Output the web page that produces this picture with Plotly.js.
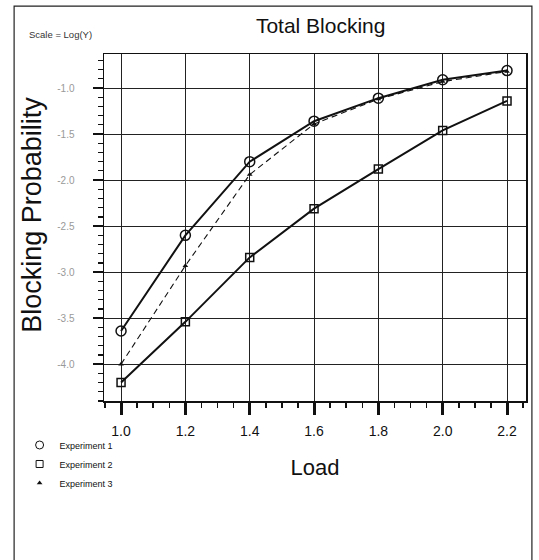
<!DOCTYPE html>
<html>
<head>
<meta charset="utf-8">
<script src="https://cdn.plot.ly/plotly-3.0.1.min.js"></script>
<style>html,body{margin:0;padding:0;background:#fff;}#chart{width:539px;height:560px;}</style>
</head>
<body>
<div id="chart"></div>
<script>
// ---- data ----
var load = [1.0, 1.2, 1.4, 1.6, 1.8, 2.0, 2.2];
var experiment1 = [-3.64, -2.60, -1.80, -1.36, -1.11, -0.91, -0.81];
var experiment2 = [-4.20, -3.54, -2.84, -2.31, -1.88, -1.46, -1.14];
var experiment3 = [-4.00, -2.93, -1.94, -1.39, -1.12, -0.93, -0.82];
var seriesNames = ['Experiment 1', 'Experiment 2', 'Experiment 3'];
var xTickVals = [1.0, 1.2, 1.4, 1.6, 1.8, 2.0, 2.2];
var xTickText = ['1.0', '1.2', '1.4', '1.6', '1.8', '2.0', '2.2'];
var yTickVals = [-1.0, -1.5, -2.0, -2.5, -3.0, -3.5, -4.0];
var yTickText = ['-1.0', '-1.5', '-2.0', '-2.5', '-3.0', '-3.5', '-4.0'];

var FONT = 'Liberation Sans, Arial, sans-serif';

var traces = [
  {x: load, y: experiment1, name: seriesNames[0], mode: 'lines+markers', showlegend: false,
   line: {color: '#111', width: 2},
   marker: {symbol: 'circle-open', size: 10, color: '#111', line: {width: 1.5, color: '#111'}}},
  {x: load, y: experiment2, name: seriesNames[1], mode: 'lines+markers', showlegend: false,
   line: {color: '#111', width: 2},
   marker: {symbol: 'square-open', size: 8, color: '#111', line: {width: 1.5, color: '#111'}}},
  {x: load, y: experiment3, name: seriesNames[2], mode: 'lines+markers', showlegend: false,
   line: {color: '#111', width: 1.1, dash: '6px,4px'},
   marker: {symbol: 'triangle-up', size: 5, color: '#111'}},
  // legend entries (symbol only, as in the reference)
  {x: [null], y: [null], name: seriesNames[0], mode: 'markers',
   marker: {symbol: 'circle-open', size: 8, color: '#111', line: {width: 1, color: '#111'}}},
  {x: [null], y: [null], name: seriesNames[1], mode: 'markers',
   marker: {symbol: 'square-open', size: 7, color: '#111', line: {width: 1, color: '#111'}}},
  {x: [null], y: [null], name: seriesNames[2], mode: 'markers',
   marker: {symbol: 'triangle-up', size: 5, color: '#111'}}
];

var layout = {
  width: 539, height: 560,
  margin: {l: 104, r: 13, t: 54, b: 159, pad: 0},
  paper_bgcolor: '#fff', plot_bgcolor: '#fff',
  font: {family: FONT, color: '#111'},
  title: {text: 'Total Blocking', font: {size: 21, family: FONT, color: '#111'},
          x: 0.595, xanchor: 'center', y: 0.955, yanchor: 'middle'},
  xaxis: {
    range: [0.947, 2.259], tickmode: 'array', tickvals: xTickVals, ticktext: xTickText,
    showgrid: true, gridcolor: '#222', gridwidth: 1, zeroline: false,
    showline: true, linecolor: '#111', linewidth: 1.5, mirror: true,
    ticks: 'outside', ticklen: 12, tickwidth: 3, tickcolor: '#111',
    ticklabelstandoff: 5,
    minor: {dtick: 0.05, ticks: 'outside', ticklen: 5, tickwidth: 1.5, tickcolor: '#111', showgrid: false},
    tickfont: {size: 14, family: FONT, color: '#111'},
    title: {text: 'Load', font: {size: 22, family: FONT, color: '#111'}, standoff: 21},
    automargin: false
  },
  yaxis: {
    range: [-4.40, -0.63], tickmode: 'array', tickvals: yTickVals, ticktext: yTickText,
    showgrid: true, gridcolor: '#222', gridwidth: 1, zeroline: false,
    showline: true, linecolor: '#111', linewidth: 1.5, mirror: true,
    ticks: 'outside', ticklen: 10, tickwidth: 2, tickcolor: '#111',
    ticklabelstandoff: 16,
    minor: {dtick: 0.1, ticks: 'outside', ticklen: 5, tickwidth: 1.2, tickcolor: '#111', showgrid: false},
    tickfont: {size: 10, family: FONT, color: '#999'},
    automargin: false
  },
  legend: {
    x: -0.2, xanchor: 'left', y: -0.085, yanchor: 'top',
    bgcolor: 'rgba(0,0,0,0)', borderwidth: 0,
    font: {size: 9, family: FONT, color: '#111'},
    tracegroupgap: 0, itemwidth: 30
  },
  annotations: [
    {text: 'Scale = Log(Y)', xref: 'paper', yref: 'paper', x: -0.183, y: 1.055,
     xanchor: 'left', yanchor: 'middle', showarrow: false,
     font: {size: 9.5, family: FONT, color: '#333'}},
    {text: 'Blocking Probability', xref: 'paper', yref: 'paper', x: -0.171, y: 0.536,
     xanchor: 'center', yanchor: 'middle', textangle: -90, showarrow: false,
     font: {size: 27, family: FONT, color: '#111'}}
  ],
  shapes: [
    {type: 'rect', xref: 'paper', yref: 'paper', x0: -0.213, x1: 1.014, y0: -0.47, y1: 1.138,
     line: {color: '#222', width: 1.2}, fillcolor: 'rgba(0,0,0,0)', layer: 'below'}
  ],
  showlegend: true
};

Plotly.newPlot('chart', traces, layout, {staticPlot: true, displayModeBar: false});
</script>
</body>
</html>
